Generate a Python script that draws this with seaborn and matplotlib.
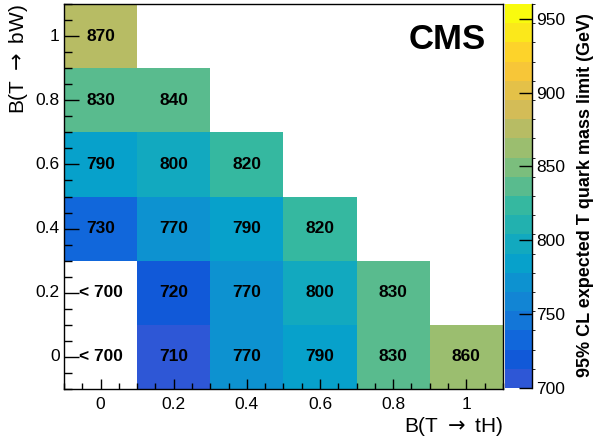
import numpy as np
import pandas as pd
import seaborn as sns
import matplotlib.pyplot as plt
from matplotlib.colors import ListedColormap, BoundaryNorm, LinearSegmentedColormap
from matplotlib.ticker import MultipleLocator

plt.rcParams['font.family'] = ['Liberation Sans', 'DejaVu Sans']

# branching fractions
tH = [0, 0.2, 0.4, 0.6, 0.8, 1]
bW = [0, 0.2, 0.4, 0.6, 0.8, 1]
# expected T mass limit (GeV) per B(T->bW) row, ordered by B(T->tH); None = not allowed
limit_bW_00 = ['< 700', 710, 770, 790, 830, 860]
limit_bW_02 = ['< 700', 720, 770, 800, 830, None]
limit_bW_04 = [730, 770, 790, 820, None, None]
limit_bW_06 = [790, 800, 820, None, None, None]
limit_bW_08 = [830, 840, None, None, None, None]
limit_bW_10 = [870, None, None, None, None, None]

z_min, z_max, n_contours = 700, 960, 20
cbar_ticks = [700, 750, 800, 850, 900, 950]

rows = [limit_bW_10, limit_bW_08, limit_bW_06, limit_bW_04, limit_bW_02, limit_bW_00]
row_labels = bW[::-1]
values = pd.DataFrame([[v if isinstance(v, (int, float)) else np.nan for v in r] for r in rows],
                      index=row_labels, columns=tH)

# ROOT kBird-like palette, cut into 20 contour bands
bird = LinearSegmentedColormap.from_list('bird', [
    (0.2082, 0.1664, 0.5293), (0.0592, 0.3599, 0.8684), (0.0780, 0.5041, 0.8385),
    (0.0232, 0.6419, 0.7914), (0.1802, 0.7178, 0.6425), (0.5301, 0.7492, 0.4662),
    (0.8186, 0.7328, 0.3499), (0.9956, 0.7862, 0.1968), (0.9764, 0.9832, 0.0539)])
band_colors = bird(np.linspace(0.07, 1.0, n_contours))
band_colors[0] = (0.18, 0.34, 0.84, 1.0)
cmap = ListedColormap(band_colors)
cmap.set_under('white')
norm = BoundaryNorm(np.linspace(z_min, z_max, n_contours + 1), n_contours)

fig = plt.figure(figsize=(5.94, 4.37), dpi=100)
ax = fig.add_axes([0.1077, 0.1098, 0.739, 0.881])
cax = fig.add_axes([0.850, 0.1121, 0.0455, 0.8787])

sns.heatmap(values, ax=ax, cbar_ax=cax, cmap=cmap, norm=norm, annot=False)

# cell labels
for i, r in enumerate(rows):
    for j, v in enumerate(r):
        if v is None:
            continue
        ax.text(j + 0.5, i + 0.5, str(v), ha='center', va='center',
                fontsize=12.5, fontweight='bold', color='black')

for s in ax.spines.values():
    s.set_visible(True)
    s.set_linewidth(1.0)
    s.set_color('black')

ax.set_xticks(np.arange(len(tH)) + 0.5)
ax.set_xticklabels([f'{v:g}' for v in tH], rotation=0)
ax.set_yticks(np.arange(len(bW)) + 0.5)
ax.set_yticklabels([f'{v:g}' for v in row_labels], rotation=0)
ax.xaxis.set_minor_locator(MultipleLocator(0.25))
ax.yaxis.set_minor_locator(MultipleLocator(0.25))
ax.tick_params(axis='x', which='major', direction='in', length=7.5, width=1, labelsize=12.5, pad=6)
ax.tick_params(axis='x', which='minor', direction='in', length=4, width=1)
ax.tick_params(axis='y', which='major', direction='in', length=11, width=1, labelsize=12.5, pad=3)
ax.tick_params(axis='y', which='minor', direction='in', length=6, width=1)

ax.set_xlabel(r'B(T $\rightarrow$ tH)', fontsize=15, loc='right')
ax.xaxis.set_label_coords(1.0, -0.068)
ax.set_ylabel(r'B(T $\rightarrow$ bW)', fontsize=15, loc='top')
ax.yaxis.set_label_coords(-0.077, 1.0)

ax.text(0.96, 0.95, 'CMS', transform=ax.transAxes, ha='right', va='top',
        fontsize=25, fontweight='bold')

cb = ax.collections[0].colorbar
cb.set_ticks(cbar_ticks)
cax.tick_params(direction='in', length=9.5, width=1, labelsize=12.5, pad=3, color='black')
cax.plot([1, 1], [0, 1], transform=cax.transAxes, color='black', lw=1, clip_on=False)
cax.set_ylabel('95% CL expected T quark mass limit (GeV)', fontsize=13, fontweight='bold', loc='top')
cax.yaxis.set_label_coords(2.67, 0.977)

fig.savefig('out.png', dpi=100)
